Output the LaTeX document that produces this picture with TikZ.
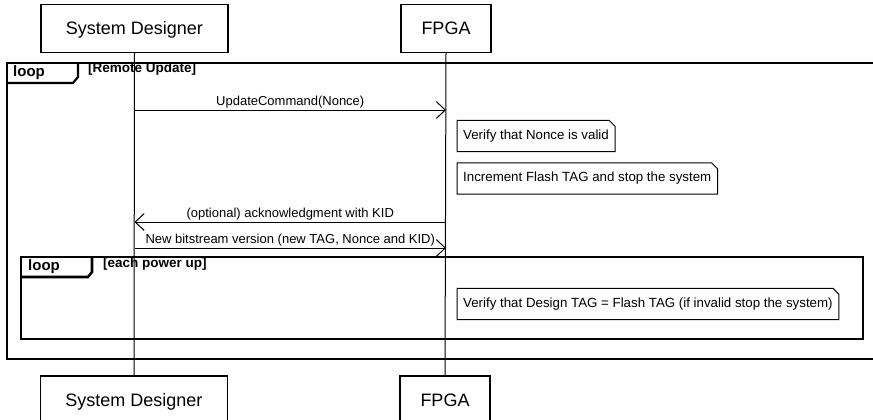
\documentclass[tikz,border=0pt]{standalone}
\usepackage{fontspec}
\setmainfont{Liberation Sans}
\usetikzlibrary{arrows.meta}
\begin{document}
\begin{tikzpicture}[x=1pt,y=-1pt,
  actor/.style={draw,line width=1.2pt,minimum width=187pt,minimum height=48pt,inner sep=0pt,text height=13pt,text depth=0pt,font=\fontsize{18}{20}\selectfont},
  lifeline/.style={line width=1pt},
  msg/.style={line width=1pt,-{Straight Barb[length=9pt,width=17pt,line width=1pt]}},
  msglabel/.style={anchor=south,inner sep=1pt,font=\fontsize{13}{14}\selectfont},
  notebox/.style={anchor=west,inner xsep=6pt,inner ysep=0pt,minimum height=31pt,font=\fontsize{13.3}{15}\selectfont},
  noteline/.style={line width=1pt},
  frame/.style={line width=2.2pt},
  innerframe/.style={line width=2.6pt},
  tabtext/.style={anchor=west,inner sep=0pt,font=\fontsize{15}{17}\selectfont\bfseries},
  guard/.style={anchor=west,inner sep=0pt,font=\fontsize{13.5}{15}\selectfont\bfseries}
]
\useasboundingbox (0,0) rectangle (873,420);
% actors
\node[actor] (sdt) at (134.5,28.5) {System Designer};
\node[actor,minimum width=90pt] (fpt) at (446,28.5) {FPGA};
\node[actor] (sdb) at (134,400) {System Designer};
\node[actor,minimum width=90pt] (fpb) at (445,400) {FPGA};
% lifelines
\draw[lifeline] (sdt.south) -- (sdb.north);
\draw[lifeline] (fpt.south) -- (fpb.north);
% outer loop frame
\draw[frame] (890,63) -- (7,63) -- (7,359) -- (890,359);
\draw[frame] (7,83) -- (73,83) -- (78,77) -- (78,63);
\node[tabtext] (l1) at (13,73) {loop};
\node[guard] (g1) at (88,69) {[Remote Update]};
% coordinates on lifelines
\coordinate (a1s) at (sdt.south |- 0,110);
\coordinate (a1e) at (fpt.south |- 0,110);
\coordinate (a2s) at (fpt.south |- 0,222);
\coordinate (a2e) at (sdt.south |- 0,222);
\coordinate (a3s) at (sdt.south |- 0,248);
\coordinate (a3e) at (fpt.south |- 0,248);
% messages
\draw[msg] (a1s) -- node[msglabel,pos=0.5] {UpdateCommand(Nonce)} (a1e);
\draw[msg] (a2s) -- node[msglabel,pos=0.5] {(optional) acknowledgment with KID} (a2e);
\draw[msg] (a3s) -- node[msglabel,pos=0.5] {New bitstream version (new TAG, Nonce and KID)} (a3e);
% notes
\node[notebox] (n1) at (457,136) {Verify that Nonce is valid};
\node[notebox] (n2) at (457,178.5) {Increment Flash TAG and stop the system};
\node[notebox] (n3) at (457,304) {Verify that Design TAG = Flash TAG (if invalid stop the system)};
\foreach \n in {n1,n2,n3}
  \draw[noteline] (\n.south west) -- (\n.north west) -- ([xshift=-6pt]\n.north east) -- ([yshift=-6pt]\n.north east) -- (\n.south east) -- cycle;
% inner loop frame
\draw[innerframe] (21,257) rectangle (863,339);
\draw[innerframe] (21,277) -- (88,277) -- (92,272) -- (92,257);
\node[tabtext] (l2) at (28,267) {loop};
\node[guard] (g2) at (103,264) {[each power up]};
\end{tikzpicture}
\end{document}
